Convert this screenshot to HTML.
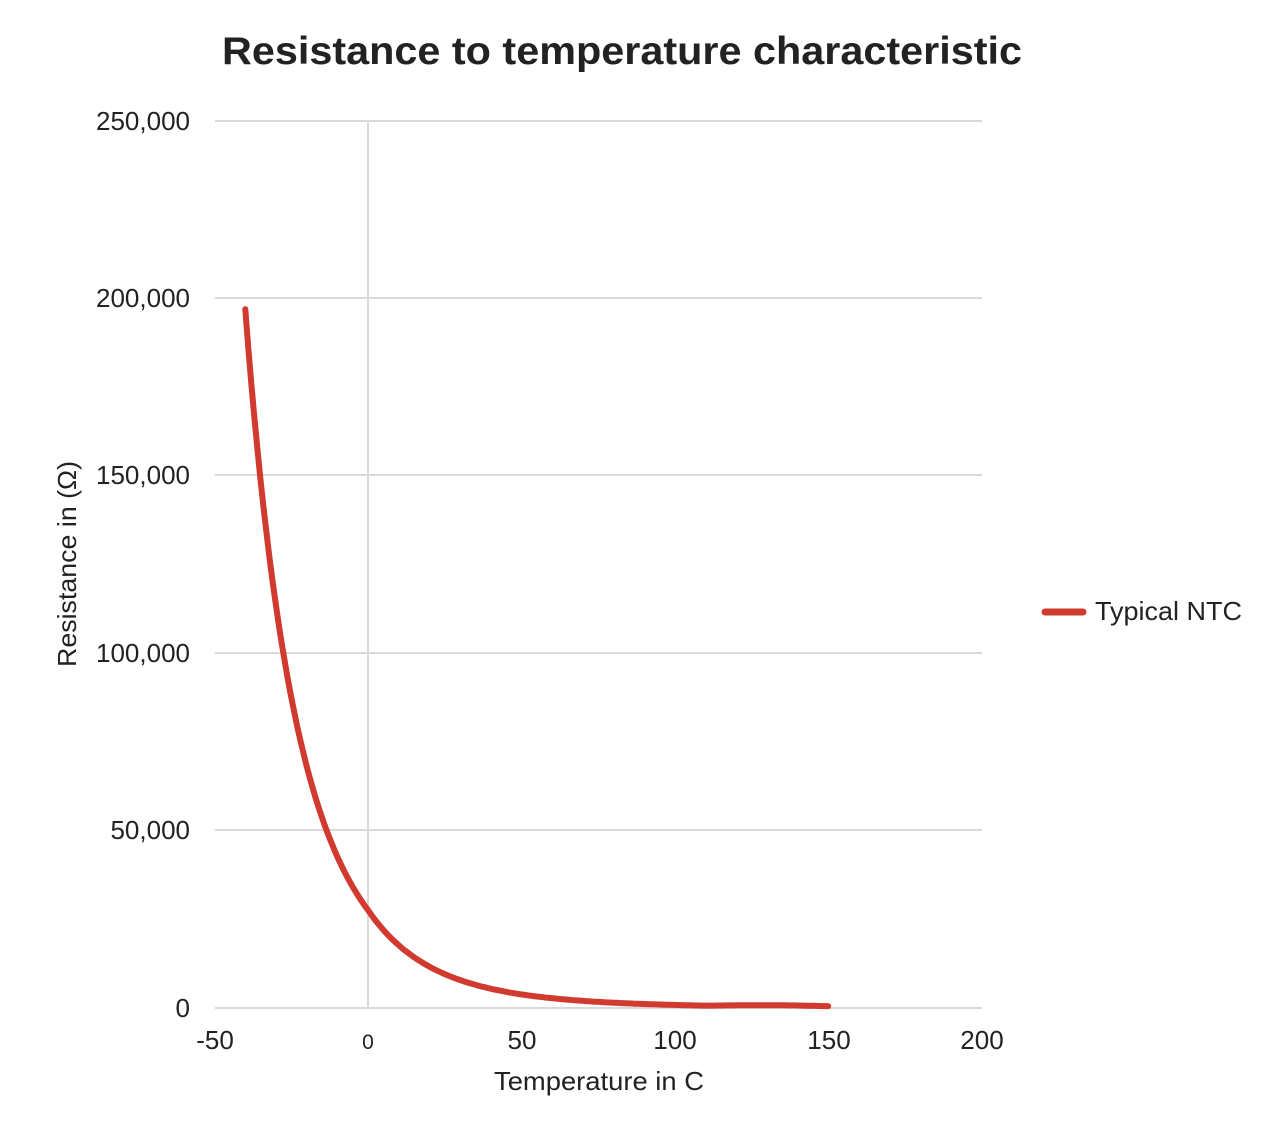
<!DOCTYPE html>
<html><head><meta charset="utf-8"><style>
body{margin:0;background:#fff;}
svg text{font-family:"Liberation Sans",sans-serif;fill:#222;}
</style></head><body>
<svg id="s" width="1280" height="1137" xmlns="http://www.w3.org/2000/svg">
<text x="222" y="64" font-size="39" font-weight="bold" textLength="800" lengthAdjust="spacingAndGlyphs">Resistance to temperature characteristic</text>
<g stroke="#d9d9d9" stroke-width="2">
<line x1="215" y1="121" x2="982" y2="121"/>
<line x1="215" y1="298" x2="982" y2="298"/>
<line x1="215" y1="475" x2="982" y2="475"/>
<line x1="215" y1="653" x2="982" y2="653"/>
<line x1="215" y1="830" x2="982" y2="830"/>
<line x1="215" y1="1008" x2="982" y2="1008"/>
<line x1="368" y1="121" x2="368" y2="1008"/>
</g>
<g font-size="26" text-anchor="end">
<text x="190" y="130">250,000</text>
<text x="190" y="307">200,000</text>
<text x="190" y="484">150,000</text>
<text x="190" y="662">100,000</text>
<text x="190" y="839">50,000</text>
<text x="190" y="1017">0</text>
</g>
<g font-size="26" text-anchor="middle">
<text x="215" y="1049">-50</text>
<text x="368" y="1049" font-size="21">0</text>
<text x="522" y="1049">50</text>
<text x="675" y="1049">100</text>
<text x="829" y="1049">150</text>
<text x="982" y="1049">200</text>
<text x="599" y="1090" textLength="210" lengthAdjust="spacingAndGlyphs">Temperature in C</text>
<text transform="translate(76,564) rotate(-90)" textLength="206" lengthAdjust="spacingAndGlyphs">Resistance in (Ω)</text>
</g>
<path id="c" fill="none" stroke="#d03a2f" stroke-width="6" stroke-linecap="round" stroke-linejoin="round"/>
<line x1="1045" y1="612" x2="1083" y2="612" stroke="#d03a2f" stroke-width="7" stroke-linecap="round"/>
<text x="1095" y="620" font-size="26" textLength="147" lengthAdjust="spacingAndGlyphs">Typical NTC</text>
</svg>
<script>
var d="";for(var t=-40;t<=150;t+=1){var R=27600*Math.exp(3125*(1/(t+273)-1/273));
if(t>0)R*=Math.exp(-t*0.004);
if(t>110)R+=400*Math.sin((t-110)/40*Math.PI*0.8);
var x=368+t*3.068,y=1008-R*0.003548;d+=(d?"L":"M")+x.toFixed(1)+" "+y.toFixed(1);}
document.getElementById("c").setAttribute("d",d);
</script>
</body></html>
